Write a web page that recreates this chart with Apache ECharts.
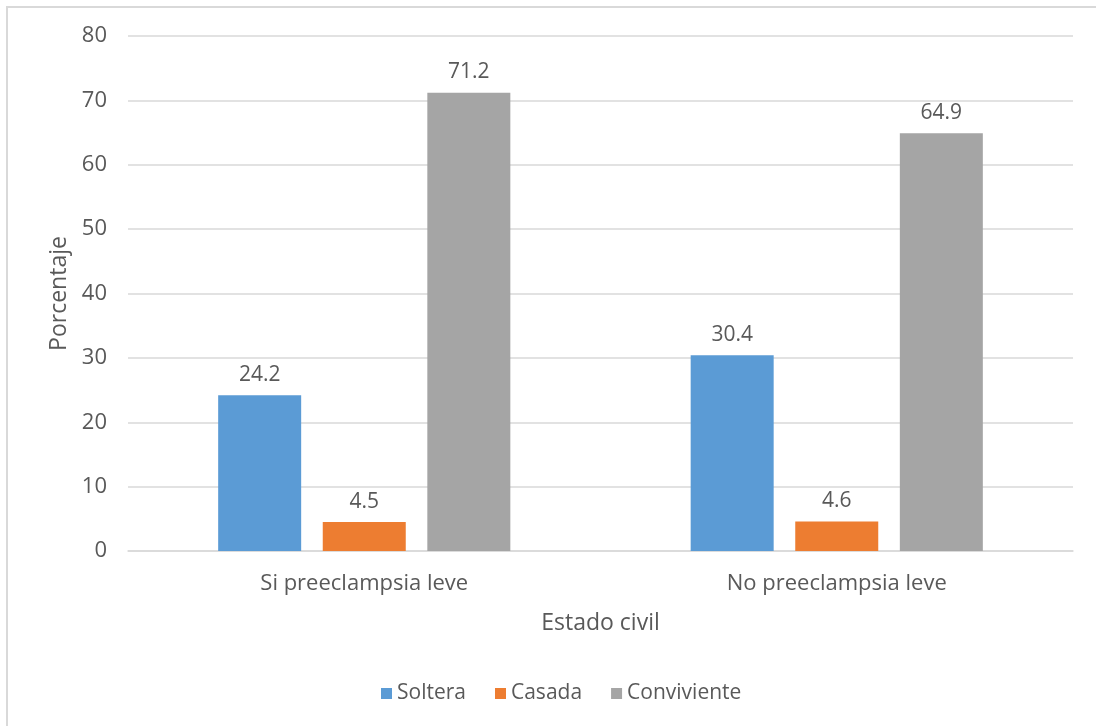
<!DOCTYPE html>
<html>
<head>
<meta charset="utf-8">
<script src="https://cdn.jsdelivr.net/npm/echarts@6/dist/echarts.min.js"></script>
<style>
  html, body { margin: 0; padding: 0; background: #fff; }
  #frame { position: absolute; left: 6px; top: 6px; width: 1200px; height: 800px;
           border-left: 2px solid #d9d9d9; border-top: 2px solid #d9d9d9; }
  #chart { position: absolute; left: 0; top: 0; width: 1096px; height: 726px; }
</style>
</head>
<body>
<div id="frame"></div>
<div id="chart"></div>
<script>
// Estado civil por grupo de preeclampsia (porcentaje)
const categories = ['Si preeclampsia leve', 'No preeclampsia leve'];
const soltera = [24.2, 30.4];
const casada = [4.5, 4.6];
const conviviente = [71.2, 64.9];
const yTicks = { min: 0, max: 80, interval: 10 };

const FONT = '"Open Sans", sans-serif';
const TEXT = '#595959';

function barSeries(name, data, color) {
  return {
    name: name,
    type: 'bar',
    data: data,
    barWidth: 83,
    barGap: '26%',
    itemStyle: { color: color },
    label: {
      show: true,
      position: 'top',
      distance: 10,
      color: TEXT,
      fontFamily: FONT,
      fontSize: 21,
      formatter: p => p.value.toFixed(1)
    }
  };
}

const chart = echarts.init(document.getElementById('chart'));
chart.setOption({
  animation: false,
  grid: { left: 128, right: 23, top: 36, bottom: 175 },
  legend: {
    bottom: 17,
    left: 376,
    itemWidth: 11,
    itemHeight: 11,
    itemGap: 29,
    icon: 'rect',
    textStyle: { color: TEXT, fontFamily: FONT, fontSize: 21 },
    data: ['Soltera', 'Casada', 'Conviviente']
  },
  xAxis: {
    type: 'category',
    data: categories,
    name: 'Estado civil',
    nameLocation: 'middle',
    nameGap: 61,
    nameTextStyle: { color: TEXT, fontFamily: FONT, fontSize: 23 },
    axisLine: { lineStyle: { color: '#d9d9d9', width: 1.5 } },
    axisTick: { show: false },
    axisLabel: { color: TEXT, fontFamily: FONT, fontSize: 22, margin: 22 }
  },
  yAxis: {
    type: 'value',
    min: yTicks.min,
    max: yTicks.max,
    interval: yTicks.interval,
    name: 'Porcentaje',
    nameLocation: 'middle',
    nameGap: 56,
    nameTextStyle: { color: TEXT, fontFamily: FONT, fontSize: 23 },
    axisLine: { show: false },
    axisTick: { show: false },
    axisLabel: { color: TEXT, fontFamily: FONT, fontSize: 22, margin: 21 },
    splitLine: { lineStyle: { color: '#d9d9d9', width: 1.5 } }
  },
  series: [
    barSeries('Soltera', soltera, '#5b9bd5'),
    barSeries('Casada', casada, '#ed7d31'),
    barSeries('Conviviente', conviviente, '#a5a5a5')
  ]
});
</script>
</body>
</html>
